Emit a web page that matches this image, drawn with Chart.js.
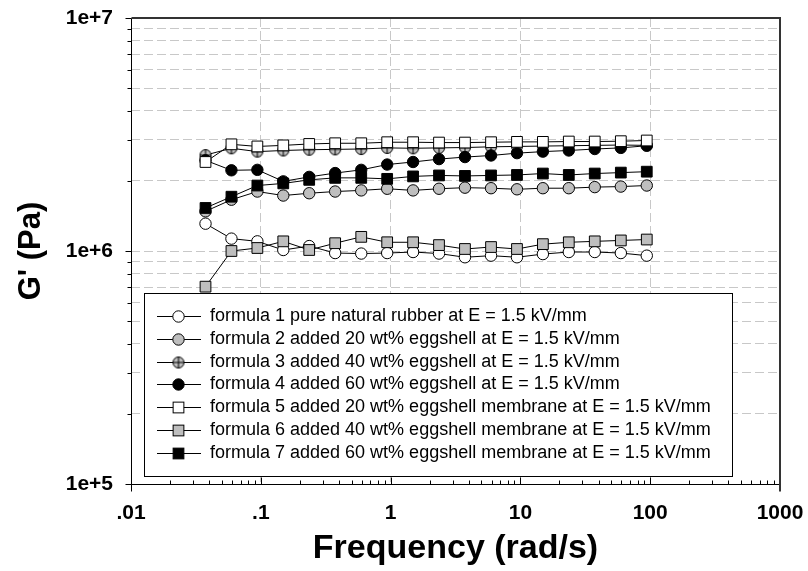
<!DOCTYPE html>
<html><head><meta charset="utf-8">
<script src="https://cdn.jsdelivr.net/npm/chart.js@4/dist/chart.umd.min.js"></script>
<style>html,body{margin:0;padding:0;background:#fff}#wrap{width:808px;height:571px;position:relative}</style>
</head><body><div id="wrap"><canvas id="c" width="808" height="571"></canvas></div>
<script>
// ---- data ----
const frequencies = [0.0375, 0.0594, 0.0941, 0.149, 0.236, 0.374, 0.594, 0.941, 1.49, 2.36, 3.74, 5.94, 9.41, 14.9, 23.6, 37.4, 59.4, 94.1];
const formula1 = [1.31e6, 1.13e6, 1.10e6, 1.01e6, 1.05e6, 0.98e6, 0.975e6, 0.98e6, 0.99e6, 0.975e6, 0.94e6, 0.955e6, 0.94e6, 0.97e6, 0.99e6, 0.99e6, 0.98e6, 0.955e6];
const formula2 = [1.48e6, 1.66e6, 1.80e6, 1.73e6, 1.77e6, 1.80e6, 1.82e6, 1.85e6, 1.82e6, 1.85e6, 1.87e6, 1.86e6, 1.84e6, 1.86e6, 1.86e6, 1.88e6, 1.89e6, 1.91e6];
const formula3 = [2.58e6, 2.76e6, 2.67e6, 2.70e6, 2.72e6, 2.73e6, 2.74e6, 2.77e6, 2.76e6, 2.77e6, 2.78e6, 2.80e6, 2.81e6, 2.82e6, 2.83e6, 2.84e6, 2.85e6, 2.84e6];
const formula4 = [2.45e6, 2.22e6, 2.23e6, 1.99e6, 2.08e6, 2.16e6, 2.23e6, 2.35e6, 2.41e6, 2.48e6, 2.53e6, 2.57e6, 2.63e6, 2.67e6, 2.70e6, 2.74e6, 2.77e6, 2.83e6];
const formula5 = [2.41e6, 2.87e6, 2.81e6, 2.84e6, 2.88e6, 2.90e6, 2.90e6, 2.93e6, 2.93e6, 2.92e6, 2.92e6, 2.93e6, 2.94e6, 2.94e6, 2.95e6, 2.95e6, 2.96e6, 2.98e6];
const formula6 = [0.703e6, 1.00e6, 1.03e6, 1.10e6, 1.01e6, 1.08e6, 1.15e6, 1.09e6, 1.09e6, 1.06e6, 1.02e6, 1.04e6, 1.02e6, 1.07e6, 1.09e6, 1.10e6, 1.11e6, 1.12e6];
const formula7 = [1.53e6, 1.71e6, 1.91e6, 1.95e6, 2.02e6, 2.06e6, 2.06e6, 2.04e6, 2.09e6, 2.11e6, 2.10e6, 2.11e6, 2.12e6, 2.15e6, 2.12e6, 2.15e6, 2.17e6, 2.19e6];
const seriesNames = [
  'formula 1 pure natural rubber at E = 1.5 kV/mm',
  'formula 2 added 20 wt% eggshell at E = 1.5 kV/mm',
  'formula 3 added 40 wt% eggshell at E = 1.5 kV/mm',
  'formula 4 added 60 wt% eggshell at E = 1.5 kV/mm',
  'formula 5 added 20 wt% eggshell membrane at E = 1.5 kV/mm',
  'formula 6 added 40 wt% eggshell membrane at E = 1.5 kV/mm',
  'formula 7 added 60 wt% eggshell membrane at E = 1.5 kV/mm'
];
const xTickValues = [0.01, 0.1, 1, 10, 100, 1000];
const xTickLabels = ['.01', '.1', '1', '10', '100', '1000'];
const yDecades = [1e5, 1e6, 1e7];
const yTickLabels = ['1e+5', '1e+6', '1e+7'];
const minorMultipliers = [2, 3, 4, 5, 6, 7, 8, 9];
const xTitle = 'Frequency (rad/s)';
const yTitle = "G' (Pa)";

// ---- styles ----
const FONT = "'Liberation Sans', Arial, sans-serif";
const GRAY = '#bebebe';
const GRID = '#c8c8c8';

function crossCircle(r) {
  const c = document.createElement('canvas');
  const s = Math.ceil(r * 2 + 3);
  c.width = s; c.height = s;
  const g = c.getContext('2d');
  const m = s / 2;
  g.beginPath(); g.arc(m, m, r, 0, Math.PI * 2);
  g.fillStyle = GRAY; g.fill();
  g.lineWidth = 1; g.strokeStyle = '#000'; g.stroke();
  g.beginPath(); g.moveTo(m - r, m); g.lineTo(m + r, m); g.moveTo(m, m - r); g.lineTo(m, m + r); g.stroke();
  return c;
}
const crossImg = crossCircle(5.5);

const seriesValues = [formula1, formula2, formula3, formula4, formula5, formula6, formula7];
const markerStyles = [
  {style: 'circle', fill: '#ffffff', r: 5.7},
  {style: 'circle', fill: GRAY, r: 5.7},
  {style: crossImg, fill: GRAY, r: 5.7},
  {style: 'circle', fill: '#000000', r: 5.7},
  {style: 'rect', fill: '#ffffff', r: 7.6},
  {style: 'rect', fill: GRAY, r: 7.6},
  {style: 'rect', fill: '#000000', r: 7.6}
];

const datasets = seriesValues.map((vals, i) => ({
  label: seriesNames[i],
  data: frequencies.map((f, j) => ({x: f, y: vals[j]})),
  borderColor: '#000',
  borderWidth: 1,
  pointStyle: markerStyles[i].style,
  pointRadius: markerStyles[i].r,
  pointBackgroundColor: markerStyles[i].fill,
  pointBorderColor: '#000',
  pointBorderWidth: 1,
  tension: 0,
  fill: false,
  order: 7 - i
}));

const framePlugin = {
  id: 'frame',
  afterDraw(chart) {
    const ctx = chart.ctx;
    const a = chart.chartArea;
    const xs = chart.scales.x, ys = chart.scales.y;
    const L = Math.round(a.left) + 0.5, R = Math.round(a.right) - 0.5;
    const T = Math.round(a.top) + 0.5, B = Math.round(a.bottom) + 0.5;
    ctx.save();
    ctx.strokeStyle = '#000';
    ctx.lineWidth = 1;
    ctx.beginPath();
    ctx.moveTo(L, T); ctx.lineTo(L, B + 7);
    ctx.moveTo(L - 1, B); ctx.lineTo(R, B);
    ctx.stroke();
    ctx.lineWidth = 2; ctx.strokeStyle = '#333';
    ctx.beginPath();
    ctx.moveTo(L, T - 0.5); ctx.lineTo(R + 0.5, T - 0.5); ctx.lineTo(R + 0.5, B + 7);
    ctx.stroke();
    // y ticks (outside)
    ctx.lineWidth = 1; ctx.strokeStyle = '#000';
    ctx.beginPath();
    yDecades.forEach((d, k) => {
      const y = Math.round(ys.getPixelForValue(d)) + 0.5;
      ctx.moveTo(L - 6, y); ctx.lineTo(L, y);
      if (k < yDecades.length - 1) minorMultipliers.forEach(m => {
        const yy = Math.round(ys.getPixelForValue(d * m)) + 0.5;
        ctx.moveTo(L - 4, yy); ctx.lineTo(L, yy);
      });
    });
    // x ticks (inside)
    xTickValues.forEach((d, k) => {
      const x = Math.round(xs.getPixelForValue(d)) + 0.5;
      if (k > 0 && k < xTickValues.length - 1) { ctx.moveTo(x, B); ctx.lineTo(x, B - 7); }
      if (k < xTickValues.length - 1) minorMultipliers.forEach(m => {
        const xx = Math.round(xs.getPixelForValue(d * m)) + 0.5;
        ctx.moveTo(xx, B); ctx.lineTo(xx, B - 4);
      });
    });
    ctx.stroke();
    // legend
    const bx = a.left + 13, by = a.top + 275, bw = 588, bh = 183;
    ctx.fillStyle = '#fff';
    ctx.fillRect(bx, by, bw, bh);
    ctx.lineWidth = 1; ctx.strokeStyle = '#000';
    ctx.strokeRect(Math.round(bx) + 0.5, Math.round(by) + 0.5, bw, bh);
    ctx.font = '18px ' + FONT;
    ctx.textBaseline = 'middle';
    ctx.textAlign = 'left';
    seriesNames.forEach((name, i) => {
      const cy = Math.round(by + 23 + i * 22.8) + 0.5;
      ctx.beginPath(); ctx.moveTo(bx + 13, cy); ctx.lineTo(bx + 57, cy); ctx.stroke();
      const mx = bx + 34.5;
      const ms = markerStyles[i];
      if (ms.style === 'circle') {
        ctx.beginPath(); ctx.arc(mx, cy, ms.r, 0, Math.PI * 2);
        ctx.fillStyle = ms.fill; ctx.fill(); ctx.stroke();
      } else if (ms.style === 'rect') {
        const h = ms.r * Math.SQRT1_2;
        ctx.fillStyle = ms.fill;
        ctx.fillRect(mx - h, cy - h, 2 * h, 2 * h);
        ctx.strokeRect(mx - h, cy - h, 2 * h, 2 * h);
      } else {
        ctx.drawImage(ms.style, mx - ms.style.width / 2, cy - ms.style.height / 2);
      }
      ctx.fillStyle = '#000';
      ctx.fillText(name, bx + 66, cy);
    });
    ctx.restore();
  }
};

function zeroPad(s) { s.paddingTop = 0; s.paddingBottom = 0; s.paddingLeft = 0; s.paddingRight = 0; }

new Chart(document.getElementById('c'), {
  type: 'line',
  data: {datasets},
  plugins: [framePlugin],
  options: {
    responsive: false,
    animation: false,
    events: [],
    layout: {padding: {left: 0, top: 18, right: 28, bottom: 0}},
    plugins: {legend: {display: false}, tooltip: {enabled: false}},
    scales: {
      x: {
        type: 'logarithmic', min: 0.01, max: 1000,
        afterBuildTicks: s => { s.ticks = xTickValues.map(v => ({value: v})); },
        afterFit: s => { s.height = 87; zeroPad(s); },
        ticks: {
          autoSkip: false, maxRotation: 0, padding: 17, color: '#000',
          font: {family: FONT, size: 21, weight: 'bold'},
          callback: v => { const k = xTickValues.indexOf(v); return k >= 0 ? xTickLabels[k] : ''; }
        },
        grid: {
          drawTicks: false, lineWidth: 1,
          color: c => (c.tick && (c.tick.value === xTickValues[0] || c.tick.value === xTickValues[xTickValues.length - 1])) ? 'rgba(0,0,0,0)' : GRID
        },
        border: {display: false, dash: [9, 4]},
        title: {display: true, text: xTitle, color: '#000', font: {family: FONT, size: 34, weight: 'bold'}, padding: {top: 0, bottom: 2}}
      },
      y: {
        type: 'logarithmic', min: 1e5, max: 1e7,
        afterBuildTicks: s => {
          const t = [];
          yDecades.forEach((d, k) => {
            t.push({value: d});
            if (k < yDecades.length - 1) minorMultipliers.forEach(m => t.push({value: d * m}));
          });
          s.ticks = t;
        },
        afterFit: s => { s.width = 131; zeroPad(s); },
        ticks: {
          autoSkip: false, padding: 18, color: '#000',
          font: {family: FONT, size: 21, weight: 'bold'},
          callback: v => { const k = yDecades.indexOf(v); return k >= 0 ? yTickLabels[k] : ''; }
        },
        grid: {
          drawTicks: false, lineWidth: 1,
          color: c => (c.tick && (c.tick.value === yDecades[0] || c.tick.value === yDecades[yDecades.length - 1])) ? 'rgba(0,0,0,0)' : GRID
        },
        border: {display: false, dash: [9, 4]},
        title: {display: true, text: yTitle, color: '#000', font: {family: FONT, size: 31, weight: 'bold'}, padding: {top: 13, bottom: 0}}
      }
    }
  }
});
</script>
</body></html>
